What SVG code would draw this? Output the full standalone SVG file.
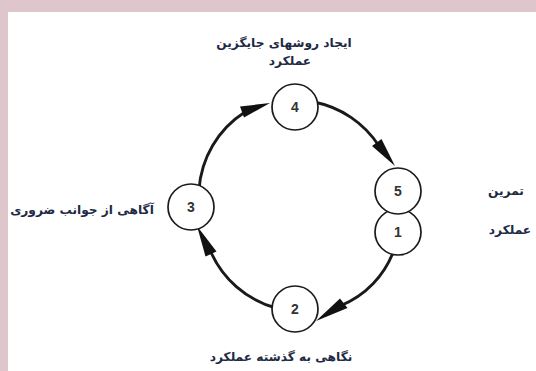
<svg xmlns="http://www.w3.org/2000/svg" width="536" height="371" viewBox="0 0 536 371">
<style>
.lbl{font-family:"DejaVu Sans",sans-serif;font-weight:bold;font-size:12.2px;fill:#1e2a45;text-anchor:middle}
.num{font-family:"Liberation Sans",Arial,sans-serif;font-weight:bold;font-size:14px;fill:#333;text-anchor:middle}
.node{fill:#fff;stroke:#1a1a1a;stroke-width:1.7}
.arc{fill:none;stroke:#1a1a1a;stroke-width:2.9}
.head{fill:#111}
</style>
<rect x="0" y="0" width="536" height="371" fill="#fff"/>
<rect x="0" y="0" width="536" height="12" fill="#dfc6cc"/>
<rect x="0" y="0" width="8" height="371" fill="#dfc6cc"/>
<g id="connectors">
<path class="arc" d="M199,190 A100,100 0 0 1 245,112"/>
<polygon class="head" points="270,103 244,117.5 240,106.5"/>
<path class="arc" d="M314,102 A100,100 0 0 1 379,146"/>
<polygon class="head" points="395,166 372,146 381.5,139"/>
<path class="arc" d="M394,250 A95,95 0 0 1 340,306"/>
<polygon class="head" points="316,321 340,298.5 347.5,308"/>
<path class="arc" d="M276,308 A100,100 0 0 1 210,250"/>
<polygon class="head" points="197,226 216.5,251.5 205.5,256.5"/>
</g>
<g id="node-4"><circle class="node" cx="295" cy="107" r="23"/><text class="num" x="295" y="112">4</text></g>
<g id="node-3"><circle class="node" cx="191" cy="207" r="23"/><text class="num" x="191" y="212">3</text></g>
<g id="node-2"><circle class="node" cx="295" cy="309" r="23"/><text class="num" x="295" y="314">2</text></g>
<g id="node-1"><circle class="node" cx="398" cy="232" r="23"/><text class="num" x="398" y="237">1</text></g>
<g id="node-5"><circle class="node" cx="398" cy="191" r="23"/><text class="num" x="398" y="196">5</text></g>
<g id="label-4"><text class="lbl" x="284" y="47">ایجاد روشهای جایگزین</text><text class="lbl" x="290" y="65">عملکرد</text></g>
<g id="label-3"><text class="lbl" x="82" y="214">آگاهی از جوانب ضروری</text></g>
<g id="label-5-1"><text class="lbl" x="506" y="195">تمرین</text><text class="lbl" x="510" y="234">عملکرد</text></g>
<g id="label-2"><text class="lbl" x="281" y="361">نگاهی به گذشته عملکرد</text></g>
</svg>
